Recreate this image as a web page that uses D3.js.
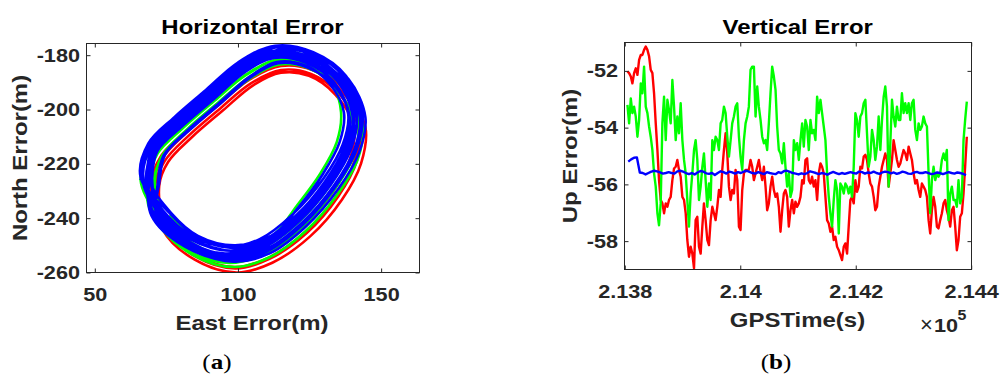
<!DOCTYPE html>
<html>
<head>
<meta charset="utf-8">
<script src="https://cdn.jsdelivr.net/npm/d3@7"></script>
<style>
  body { margin: 0; background: #fff; }
  svg { display: block; }
</style>
</head>
<body>
<svg id="chart" width="1000" height="377"></svg>
<script>
"use strict"

// ---- panel (b): GPS time (s) of the red / green samples ----
const gpsTime = [
  213804.6, 213807.5, 213810.4, 213813.2, 213816.1, 213819.0, 213821.9, 213824.8, 213827.7, 213830.5,
  213833.4, 213836.3, 213839.2, 213842.1, 213844.9, 213847.8, 213850.7, 213853.6, 213856.5, 213859.3,
  213862.2, 213865.1, 213868.0, 213870.9, 213873.8, 213876.6, 213879.5, 213882.4, 213885.3, 213888.2,
  213891.0, 213893.9, 213896.8, 213899.7, 213902.6, 213905.5, 213908.3, 213911.2, 213914.1, 213917.0,
  213919.9, 213922.7, 213925.6, 213928.5, 213931.4, 213934.3, 213937.1, 213940.0, 213942.9, 213945.8,
  213948.7, 213951.6, 213954.4, 213957.3, 213960.2, 213963.1, 213966.0, 213968.8, 213971.7, 213974.6,
  213977.5, 213980.4, 213983.3, 213986.1, 213989.0, 213991.9, 213994.8, 213997.7, 214000.5, 214003.4,
  214006.3, 214009.2, 214012.1, 214014.9, 214017.8, 214020.7, 214023.6, 214026.5, 214029.4, 214032.2,
  214035.1, 214038.0, 214040.9, 214043.8, 214046.6, 214049.5, 214052.4, 214055.3, 214058.2, 214061.1,
  214063.9, 214066.8, 214069.7, 214072.6, 214075.5, 214078.3, 214081.2, 214084.1, 214087.0, 214089.9,
  214092.8, 214095.6, 214098.5, 214101.4, 214104.3, 214107.2, 214110.0, 214112.9, 214115.8, 214118.7,
  214121.6, 214124.4, 214127.3, 214130.2, 214133.1, 214136.0, 214138.9, 214141.7, 214144.6, 214147.5,
  214150.4, 214153.3, 214156.1, 214159.0, 214161.9, 214164.8, 214167.7, 214170.6, 214173.4, 214176.3,
  214179.2, 214182.1, 214185.0, 214187.8, 214190.7, 214193.6, 214196.5, 214199.4, 214202.2, 214205.1,
  214208.0, 214210.9, 214213.8, 214216.7, 214219.5, 214222.4, 214225.3, 214228.2, 214231.1, 214233.9,
  214236.8, 214239.7, 214242.6, 214245.5, 214248.4, 214251.2, 214254.1, 214257.0, 214259.9, 214262.8,
  214265.6, 214268.5, 214271.4, 214274.3, 214277.2, 214280.0, 214282.9, 214285.8, 214288.7, 214291.6,
  214294.5, 214297.3, 214300.2, 214303.1, 214306.0, 214308.9, 214311.7, 214314.6, 214317.5, 214320.4,
  214323.3, 214326.2, 214329.0, 214331.9, 214334.8, 214337.7, 214340.6, 214343.4, 214346.3, 214349.2,
  214352.1, 214355.0, 214357.8, 214360.7, 214363.6, 214366.5, 214369.4, 214372.3, 214375.1, 214378.0,
  214380.9, 214383.8, 214386.7, 214389.5, 214392.4
];

const upRed = [
  -52.02, -52.08, -52.20, -52.44, -52.08, -51.91, -52.14, -51.61, -51.44, -51.44,
  -51.26, -51.14, -51.26, -51.49, -51.96, -52.08, -52.79, -53.85, -54.79, -55.85,
  -56.55, -56.67, -57.02, -56.67, -56.79, -56.55, -56.44, -55.85, -55.44, -55.38,
  -55.14, -55.49, -55.73, -56.44, -56.55, -57.02, -57.96, -58.55, -58.20, -58.44,
  -58.96, -57.26, -57.14, -58.20, -58.44, -57.49, -56.67, -57.26, -57.96, -58.14,
  -57.26, -56.79, -57.02, -57.26, -56.79, -56.20, -56.44, -55.49, -54.79, -54.20,
  -54.91, -56.08, -56.55, -56.20, -56.32, -55.49, -55.85,
  -57.49, -57.61, -56.20, -55.61, -55.49, -55.49, -55.49, -55.14, -55.38, -55.85,
  -55.61, -55.38, -55.14, -55.55, -55.85, -55.38, -56.08, -56.91, -56.67, -56.08,
  -55.73, -56.20, -56.44, -56.32, -56.79, -57.67, -56.91, -56.32, -56.20, -56.44,
  -57.49, -56.91, -56.55, -57.02, -56.61, -56.79, -56.67, -56.44, -55.85, -55.97,
  -55.14, -55.08, -55.85, -55.97, -55.73, -56.08, -55.85, -56.55, -55.61, -55.26,
  -55.38, -55.61, -56.44, -57.26, -57.38, -57.67, -57.49, -57.96, -57.85, -58.20,
  -58.32, -58.49, -58.67, -58.20, -58.08, -58.44, -57.49,
  -56.55, -56.44, -56.67, -55.85, -56.26, -56.08, -55.38, -55.44, -55.02, -54.96,
  -55.14, -55.61, -55.97, -56.08, -56.44, -56.91, -56.79, -56.08, -55.73, -55.38,
  -55.14, -54.91, -55.14, -56.08, -55.61, -55.14, -54.44, -54.79, -55.14, -55.38,
  -55.26, -55.02, -54.79, -54.91, -55.14, -54.67, -54.91, -55.14, -55.61, -55.97,
  -55.85, -56.20, -56.44, -55.97, -56.08, -56.20, -56.44, -57.26, -57.73, -56.91,
  -56.44, -56.79, -57.49, -57.55, -57.26, -57.02, -56.67, -56.55, -56.91, -57.14,
  -57.49, -56.91, -56.79, -57.49, -58.32, -57.96, -57.14, -57.02, -56.32, -55.38,
  -54.32
];

const upGreen = [
  -53.20, -53.85, -52.97, -53.49, -53.26, -53.61, -54.32, -53.73, -52.44, -52.79,
  -51.85, -53.26, -53.49, -53.96, -54.32, -54.79, -55.61, -56.08, -57.02, -57.44,
  -56.67, -53.85, -52.91, -54.44, -53.02, -53.38, -53.85, -52.32, -53.26, -54.44,
  -53.61, -54.20, -53.14, -54.44, -55.14, -55.61, -56.55, -57.49, -56.32, -55.61,
  -54.79, -54.44, -55.14, -56.55, -56.08, -55.38, -54.91, -55.85, -56.79, -55.97,
  -56.55, -54.44, -54.79, -54.32, -54.44, -54.79, -53.85, -53.73, -53.26, -53.49,
  -54.32, -55.02, -54.44, -53.85, -53.61, -53.26, -53.14,
  -54.32, -55.02, -55.49, -54.44, -53.85, -53.61, -53.26, -51.96, -51.85, -51.85,
  -53.61, -52.55, -53.26, -53.73, -54.32, -54.55, -54.44, -54.79, -53.85, -52.79,
  -51.85, -52.20, -52.67, -53.96, -54.79, -54.91, -55.26, -54.55, -55.38, -56.08,
  -55.61, -56.44, -56.20, -54.44, -54.79, -54.55, -55.14, -54.44, -53.85, -54.67,
  -53.73, -53.96, -54.79, -53.73, -54.20, -54.08, -54.44, -52.91, -53.49, -53.02,
  -53.49, -53.96, -54.44, -55.61, -56.44, -57.02, -57.49, -56.55, -55.85, -56.20,
  -57.73, -55.97, -56.08, -56.32, -55.97, -56.08, -56.32,
  -56.08, -56.44, -55.38, -53.49, -53.73, -54.32, -53.61, -53.49, -53.14, -53.02,
  -54.20, -55.38, -55.02, -54.08, -54.44, -55.14, -54.67, -53.61, -54.79, -53.73,
  -52.91, -52.55, -53.26, -56.08, -54.55, -53.02, -53.61, -53.96, -53.26, -53.73,
  -53.73, -52.79, -53.49, -53.14, -53.49, -53.14, -53.73, -53.14, -53.02, -54.08,
  -54.44, -53.85, -54.08, -53.96, -53.61, -53.85, -53.96, -55.61, -57.02, -55.85,
  -55.38, -55.85, -55.61, -55.73, -55.61, -55.14, -54.91, -55.14, -54.79, -57.26,
  -56.32, -56.08, -56.55, -56.55, -56.79, -55.85, -56.67, -56.44, -54.44, -53.73,
  -53.08
];

// the blue solution is logged every 5 s
const blueTime = [
  213806, 213811, 213816, 213821, 213826, 213831, 213836, 213841, 213846, 213851,
  213856, 213861, 213866, 213871, 213876, 213881, 213886, 213891, 213896, 213901,
  213906, 213911, 213916, 213921, 213926, 213931, 213936, 213941, 213946, 213951,
  213956, 213961, 213966, 213971, 213976, 213981, 213986, 213991, 213996, 214001,
  214006, 214011, 214016, 214021, 214026, 214031, 214036, 214041, 214046, 214051,
  214056, 214061, 214066, 214071, 214076, 214081, 214086, 214091, 214096, 214101,
  214106, 214111, 214116, 214121, 214126, 214131, 214136, 214141, 214146, 214151,
  214156, 214161, 214166, 214171, 214176, 214181, 214186, 214191, 214196, 214201,
  214206, 214211, 214216, 214221, 214226, 214231, 214236, 214241, 214246, 214251,
  214256, 214261, 214266, 214271, 214276, 214281, 214286, 214291, 214296, 214301,
  214306, 214311, 214316, 214321, 214326, 214331, 214336, 214341, 214346, 214351,
  214356, 214361, 214366, 214371, 214376, 214381, 214386, 214391
];

const upBlue = [
  -55.2, -55.12, -55.06, -55.05, -55.58, -55.6, -55.65, -55.6, -55.55, -55.52,
  -55.54, -55.58, -55.62, -55.6, -55.57, -55.6, -55.62, -55.54, -55.52, -55.55,
  -55.6, -55.64, -55.6, -55.65, -55.58, -55.53, -55.55, -55.61, -55.63, -55.6,
  -55.67, -55.6, -55.54, -55.57, -55.62, -55.55, -55.58, -55.62, -55.57, -55.6,
  -55.55, -55.52, -55.56, -55.6, -55.62, -55.57, -55.6, -55.64, -55.57, -55.6,
  -55.62, -55.64, -55.57, -55.6, -55.53, -55.52, -55.56, -55.6, -55.62, -55.65,
  -55.61, -55.64, -55.6, -55.54, -55.57, -55.6, -55.64, -55.6, -55.62, -55.66,
  -55.6, -55.56, -55.6, -55.64, -55.6, -55.63, -55.6, -55.57, -55.6, -55.62,
  -55.55, -55.57, -55.62, -55.58, -55.6, -55.55, -55.6, -55.63, -55.58, -55.55,
  -55.57, -55.61, -55.58, -55.63, -55.6, -55.55, -55.58, -55.62, -55.63, -55.58,
  -55.56, -55.6, -55.6, -55.57, -55.6, -55.64, -55.62, -55.58, -55.6, -55.64,
  -55.6, -55.57, -55.6, -55.62, -55.58, -55.6, -55.63, -55.67
];

// ---- panel (a): east/north error, one array of [E, N] points per lap ----
const redLaps = [
  [[70,-228],[73.5,-218],[82,-208.5],[93,-198.5],[104,-189],[115,-184],[126,-185.5],[136,-193],[143,-206],[141.5,-219],[135,-232],[124,-245.5],[111,-255],[99,-258.5],[85,-254],[74,-243]],
  [[69.5,-228.5],[73.2,-217],[81.8,-208.3],[92.8,-198.3],[104,-188.7],[115.5,-183.5],[127,-185.2],[137.3,-192.9],[144.5,-206.4],[143,-219.8],[136.3,-233.2],[125.2,-246.7],[112,-256.4],[99.5,-260],[84.9,-255.3],[73.6,-244]],
  [[71,-228.5],[74.4,-219],[82.7,-209.7],[93.7,-199.7],[104.5,-190.4],[115,-185.5],[125.5,-186.9],[135.2,-194.1],[142,-206.6],[140.6,-219.2],[134.3,-231.9],[123.3,-245.3],[110.6,-254.6],[99,-258],[85.6,-253.7],[74.9,-243]],
  [[72.5,-228],[75.6,-219.3],[83.8,-210.3],[94.8,-200.3],[105.3,-191.1],[115,-186.5],[124.8,-187.6],[134,-194.5],[140.5,-206.3],[139.1,-218.3],[133.1,-230.4],[122.3,-243.8],[109.9,-252.8],[99,-256],[86.5,-252],[76.3,-241.9]]
];

const greenLaps = [
  [[68.5,-227],[72,-216],[81,-206.5],[92,-196.5],[103,-187],[114,-181.5],[125.5,-183],[136,-191],[142,-204],[140.5,-216.5],[133.5,-229.5],[122.5,-243],[110,-252.5],[98,-256],[84,-251.5],[73,-240.5]],
  [[66,-226],[69.7,-214.3],[79,-204.5],[90,-194.5],[101.3,-184.7],[113,-179],[125.3,-180.7],[136.2,-189.1],[142.5,-202.9],[140.9,-216],[133.6,-229.5],[122.6,-243.1],[109.7,-252.9],[97,-256.5],[82.1,-251.7],[70.7,-240.2]],
  [[68,-228],[71.7,-216.5],[80.8,-206.8],[91.8,-196.8],[103,-187.2],[114.5,-181.5],[126.5,-183.2],[137.3,-191.4],[143.5,-204.9],[142,-217.8],[134.8,-231.2],[123.7,-244.7],[111,-254.4],[98.5,-258],[83.9,-253.3],[72.6,-242]],
  [[70.5,-227],[73.7,-217],[82.4,-207.9],[93.4,-197.9],[104,-188.7],[114,-183.5],[124.5,-184.7],[134.4,-192.2],[140,-204.2],[138.6,-215.9],[132,-228.2],[121.1,-241.6],[109.1,-250.7],[98,-254],[85.2,-249.9],[74.8,-239.6]],
  [[71,-227],[73.5,-217],[82,-207.5],[93,-197.5],[104,-188],[114,-182.5],[125,-184],[133,-191],[136,-201],[134.5,-212],[128.5,-224],[120.5,-235.5],[112,-246.5],[99,-250.5],[85.5,-247],[76,-239]]
];

const blueLaps = [
  [[66,-226],[68.9,-212.8],[78.3,-202.8],[89.3,-192.8],[100.8,-182.4],[113,-176.5],[126.3,-178.9],[137.5,-187.5],[143.5,-201.8],[141.4,-214.8],[133.9,-228.6],[122.8,-242.3],[110.1,-252.3],[97,-255.5],[81.5,-250.5],[69.8,-239.1]],
  [[69,-226.5],[71.5,-214.5],[80.5,-205],[91.5,-195],[102.5,-185],[113.5,-179.5],[125.5,-181.5],[136,-189.5],[141.5,-202.5],[139.5,-214.5],[132.5,-227.5],[121.5,-241],[109.5,-250.5],[97.5,-253.5],[83.5,-249],[72.5,-238.5]],
  [[66.7,-226],[69.5,-213.1],[78.7,-203.2],[89.7,-193.2],[101.1,-183],[113,-177.2],[125.9,-179.5],[136.9,-187.9],[142.8,-201.8],[140.7,-214.5],[133.4,-228.2],[122.3,-241.8],[109.8,-251.6],[97,-254.8],[81.9,-249.9],[70.4,-238.8]],
  [[68,-225.5],[70.7,-212.8],[80,-203],[91,-193],[102.3,-182.7],[114,-177],[126.8,-179.2],[137.7,-187.6],[143.5,-201.4],[141.4,-214],[134.1,-227.5],[123,-241],[110.7,-250.9],[98,-254],[83.1,-249.2],[71.7,-238.2]],
  [[70,-225.5],[72.4,-213.8],[81.4,-204.4],[92.4,-194.4],[103.3,-184.4],[114,-179],[125.8,-180.9],[136.1,-188.8],[141.5,-201.6],[139.5,-213.4],[132.6,-226.2],[121.7,-239.7],[109.8,-249.1],[98,-252],[84.3,-247.6],[73.5,-237.3]],
  [[69.5,-226],[71.9,-214.5],[80.7,-205.2],[91.7,-195.2],[102.5,-185.4],[113,-180],[124.5,-181.9],[134.7,-189.6],[140,-202.1],[138.1,-213.7],[131.3,-226.4],[120.3,-239.8],[108.6,-249.1],[97,-252],[83.6,-247.7],[72.9,-237.6]],
  [[67,-226],[69.6,-213.8],[78.7,-204.2],[89.7,-194.2],[100.8,-184.1],[112,-178.5],[124.3,-180.6],[134.9,-188.7],[140.5,-202],[138.5,-214.2],[131.4,-227.3],[120.4,-240.9],[108.2,-250.5],[96,-253.5],[81.7,-248.9],[70.6,-238.2]],
  [[68.5,-226.8],[71.1,-214.4],[80.2,-204.7],[91.2,-194.7],[102.4,-184.6],[113.8,-179],[126.2,-181.1],[136.9,-189.3],[142.6,-202.7],[140.6,-215],[133.4,-228.3],[122.4,-241.9],[110.2,-251.5],[98.8,-254.6],[83.3,-249.9],[72.1,-239.2]],
  [[72,-227],[74,-217],[82.5,-207.5],[93.5,-197.5],[104,-188],[113.5,-182.5],[124,-184],[132,-190.5],[137,-201],[135.5,-212],[129.5,-224],[121.5,-235.5],[112.5,-246],[99,-250],[86,-246.5],[77,-238.5]],
  [[69.5,-226.5],[71.8,-215.3],[80.6,-206.1],[91.6,-196.1],[102.3,-186.3],[112.5,-181],[123.8,-182.8],[133.8,-190.4],[139,-202.7],[137.1,-214.1],[130.4,-226.5],[119.5,-240],[107.8,-249.2],[97.5,-252],[83.4,-247.8],[72.9,-237.8]],
  [[70,-225.5],[72.2,-214.5],[80.9,-204.9],[91.9,-194.9],[102.5,-185.2],[112.5,-180.5],[123.5,-182.2],[133.4,-189.7],[138.5,-201.7],[136.6,-212.9],[130,-225.2],[119.1,-238.6],[107.6,-247.7],[96.5,-250.5],[83.7,-246.4],[73.3,-236.6]],
  [[68,-227],[70.8,-214],[80.1,-204.1],[91.1,-194.1],[102.5,-183.8],[114.5,-178],[127.5,-180.3],[138.6,-188.8],[144.5,-202.8],[142.4,-215.6],[135,-229.3],[123.9,-242.9],[111.4,-252.8],[98.5,-256],[83.3,-251.1],[71.7,-239.9]],
  [[72.5,-227],[74.6,-216.5],[83.1,-207.6],[94.1,-197.6],[104.5,-188.1],[114,-183],[124.5,-184.6],[134.1,-191.8],[139,-203.3],[137.2,-214.1],[130.8,-226.1],[119.9,-239.4],[108.7,-248.3],[98,-251],[85.8,-247.1],[75.7,-237.7]],
  [[66,-225],[68.7,-212.5],[77.8,-202.8],[88.8,-192.8],[100,-182.7],[111.5,-177],[124,-179.2],[134.8,-187.4],[140.5,-200.9],[138.5,-213.3],[131.3,-226.7],[120.2,-240.2],[108,-249.9],[95.5,-253],[80.9,-248.3],[69.6,-237.5]]
];

// ---- ticks ----
const hTicksX = [50, 100, 150];
const hTicksY = [-260, -240, -220, -200, -180];
const vTicksX = [213800, 214000, 214200, 214400];
const vTickLabels = ["2.138", "2.14", "2.142", "2.144"];
const vTicksY = [-58, -56, -54, -52];

const colors = { red: "#ff0000", green: "#00ff00", blue: "#0000ff" };
const ink = "#262626";
const sans = "'Liberation Sans', Arial, Helvetica, sans-serif";
const widenBy = 1.14;

var svg = d3.select("#chart");
svg.append("rect").attr("width", 1000).attr("height", 377).attr("fill", "#fff");

// the source figure is stretched sideways, so text is widened to match
function widen(sel) {
    sel.each(function() {
        var w = this.getComputedTextLength();
        d3.select(this)
            .attr("textLength", w * widenBy)
            .attr("lengthAdjust", "spacingAndGlyphs");
    });
}

function plain(d) { return String(d); }

function panel(id, x, y, xTicks, yTicks, xFormat) {
    var l = x.range()[0], r = x.range()[1], b = y.range()[0], t = y.range()[1];

    svg.append("clipPath").attr("id", id)
        .append("rect")
        .attr("x", l).attr("y", t)
        .attr("width", r - l).attr("height", b - t);

    var plot = svg.append("g").attr("clip-path", "url(#" + id + ")");
    var g = svg.append("g");

    g.append("g")
        .attr("transform", "translate(0," + b + ")")
        .call(d3.axisBottom(x).tickValues(xTicks).tickFormat(xFormat)
            .tickSizeInner(-4).tickSizeOuter(0).tickPadding(15));
    g.append("g")
        .attr("transform", "translate(0," + t + ")")
        .call(d3.axisTop(x).tickValues(xTicks).tickFormat("")
            .tickSizeInner(-4).tickSizeOuter(0));
    g.append("g")
        .attr("transform", "translate(" + l + ",0)")
        .call(d3.axisLeft(y).tickValues(yTicks).tickFormat(plain)
            .tickSizeInner(-4).tickSizeOuter(0).tickPadding(6.5));
    g.append("g")
        .attr("transform", "translate(" + r + ",0)")
        .call(d3.axisRight(y).tickValues(yTicks).tickFormat("")
            .tickSizeInner(-4).tickSizeOuter(0));

    g.selectAll(".domain").remove();
    g.selectAll("g")
        .attr("font-family", sans)
        .attr("font-size", 19)
        .attr("font-weight", "bold");
    g.selectAll(".tick line").attr("stroke", ink);
    g.selectAll(".tick text").attr("fill", ink).call(widen);

    g.append("rect")
        .attr("x", l).attr("y", t)
        .attr("width", r - l).attr("height", b - t)
        .attr("fill", "none")
        .attr("stroke", ink)
        .attr("stroke-width", 1);

    return plot;
}

function label(x, y, txt, opts) {
    var el = svg.append("text")
        .attr("x", x).attr("y", y)
        .attr("text-anchor", "middle")
        .attr("font-family", sans)
        .attr("font-weight", "bold")
        .attr("font-size", opts.size)
        .attr("fill", opts.fill || ink)
        .text(txt);
    if (opts.rotate) el.attr("transform", "rotate(-90," + x + "," + y + ")");
    el.call(widen);
    return el;
}

// ---- (a) Horizontal Error ----
var xA = d3.scaleLinear().domain([47.1, 163.4]).range([86.5, 419.5]);
var yA = d3.scaleLinear().domain([-260, -175.7]).range([272.5, 43.5]);
var plotA = panel("clipA", xA, yA, hTicksX, hTicksY, plain);

var track = d3.line()
    .x(function(d) { return xA(d[0]); })
    .y(function(d) { return yA(d[1]); })
    .curve(d3.curveCatmullRom.alpha(0.5));

[[redLaps, colors.red], [greenLaps, colors.green], [blueLaps, colors.blue]].forEach(function(s) {
    plotA.append("path")
        .attr("d", track(s[0].flat()))
        .attr("fill", "none")
        .attr("stroke", s[1])
        .attr("stroke-width", 2.6)
        .attr("stroke-linejoin", "round");
});

label(252.5, 34, "Horizontal Error", { size: 21, fill: "#000" });
label(252, 330, "East Error(m)", { size: 21 });
label(27, 158, "North Error(m)", { size: 21, rotate: true });

// ---- (b) Vertical Error ----
var xB = d3.scaleLinear().domain([213799.5, 214400.5]).range([624.5, 971.5]);
var yB = d3.scaleLinear().domain([-59, -51]).range([269.5, 42.5]);
var plotB = panel("clipB", xB, yB, vTicksX, vTicksY, function(d, i) { return vTickLabels[i]; });

[[gpsTime, upRed, colors.red], [gpsTime, upGreen, colors.green], [blueTime, upBlue, colors.blue]].forEach(function(s) {
    var line = d3.line()
        .x(function(d, i) { return xB(s[0][i]); })
        .y(function(d) { return yB(d); });
    plotB.append("path")
        .attr("d", line(s[1]))
        .attr("fill", "none")
        .attr("stroke", s[2])
        .attr("stroke-width", 2.4)
        .attr("stroke-linejoin", "round");
});

label(797.7, 34, "Vertical Error", { size: 21, fill: "#000" });
label(797.5, 327, "GPSTime(s)", { size: 21 });
label(577, 156, "Up Error(m)", { size: 21, rotate: true });

// x10^5 exponent
svg.append("text").attr("x", 920).attr("y", 332)
    .attr("font-family", sans).attr("font-size", 22).attr("fill", ink)
    .text("\u00d7");
svg.append("text").attr("x", 934).attr("y", 332)
    .attr("font-family", sans).attr("font-size", 19).attr("font-weight", "bold").attr("fill", ink)
    .text("10").call(widen);
svg.append("text").attr("x", 957.5).attr("y", 320)
    .attr("font-family", sans).attr("font-size", 14).attr("font-weight", "bold").attr("fill", ink)
    .text("5").call(widen);

// sub-figure letters
[["a", 217], ["b", 776]].forEach(function(p) {
    var t = svg.append("text")
        .attr("x", p[1]).attr("y", 369)
        .attr("text-anchor", "middle")
        .attr("font-family", "'Liberation Serif', 'Times New Roman', serif")
        .attr("font-size", 22)
        .attr("fill", "#000");
    t.append("tspan").text("(");
    t.append("tspan").attr("font-weight", "bold").text(p[0]);
    t.append("tspan").text(")");
    t.call(widen);
});
</script>
</body>
</html>
